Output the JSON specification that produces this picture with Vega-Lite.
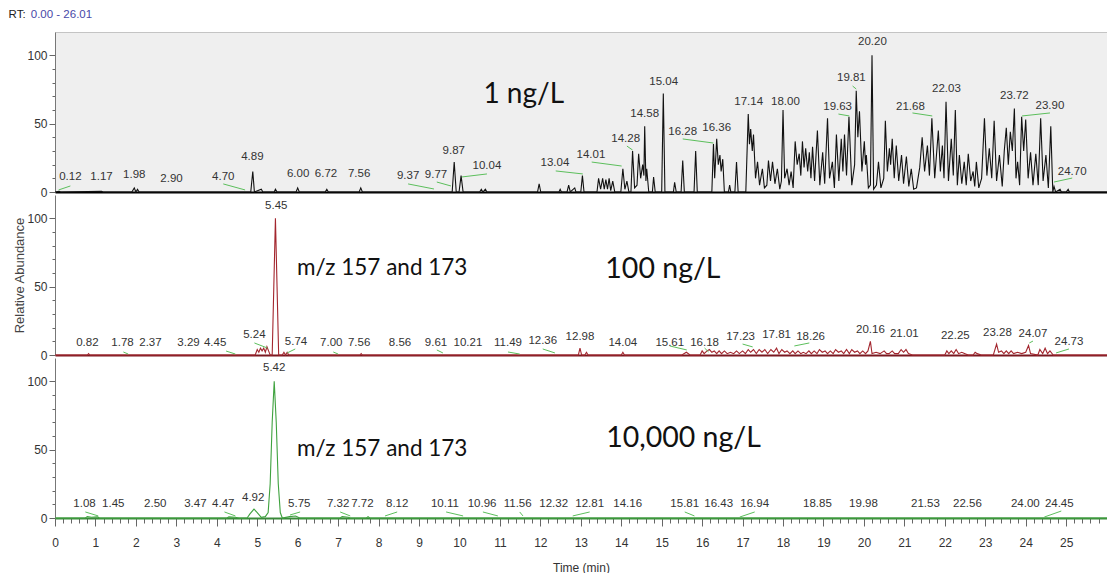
{
"$schema": "https://vega.github.io/schema/vega-lite/v6.json",
"padding": {"left": 8, "top": 8, "right": 0, "bottom": 0},
"background": "white",
"spacing": 3,
"bounds": "flush",
"config": {"view": {"stroke": null}, "axis": {"grid": false}},
"datasets": {
"one": [{}],
"top": [
{"t":0,"a":0},{"t":0.1,"a":0.5},{"t":0.14,"a":0},{"t":1.15,"a":0.5},{"t":1.19,"a":0},{"t":1.9,"a":0},{"t":1.96,"a":3},{"t":2.0,"a":0},{"t":2.04,"a":2},{"t":2.08,"a":0},
{"t":4.84,"a":0},{"t":4.89,"a":15},{"t":4.93,"a":0},{"t":5.1,"a":2},{"t":5.14,"a":0},{"t":5.42,"a":0},{"t":5.45,"a":2},{"t":5.49,"a":0},
{"t":5.96,"a":0},{"t":6.0,"a":3},{"t":6.04,"a":0},{"t":6.68,"a":0},{"t":6.72,"a":2},{"t":6.76,"a":0},{"t":7.52,"a":0},{"t":7.56,"a":3},{"t":7.6,"a":0},
{"t":9.82,"a":0},{"t":9.87,"a":22},{"t":9.92,"a":0},{"t":9.99,"a":0},{"t":10.04,"a":12},{"t":10.09,"a":0},
{"t":10.5,"a":0},{"t":10.54,"a":2},{"t":10.58,"a":0},{"t":10.64,"a":2},{"t":10.68,"a":0},
{"t":11.93,"a":0},{"t":11.97,"a":6},{"t":12.01,"a":0},{"t":12.46,"a":0},{"t":12.49,"a":2},{"t":12.52,"a":0},
{"t":12.66,"a":0},{"t":12.7,"a":5},{"t":12.74,"a":0},{"t":12.85,"a":3},{"t":12.88,"a":0},{"t":13.0,"a":0},{"t":13.04,"a":12},{"t":13.08,"a":0},
{"t":13.4,"a":0},{"t":13.44,"a":10},{"t":13.49,"a":2},{"t":13.54,"a":10},{"t":13.58,"a":2},{"t":13.62,"a":9},{"t":13.66,"a":2},{"t":13.7,"a":10},{"t":13.74,"a":1},{"t":13.79,"a":8},{"t":13.84,"a":0},
{"t":13.99,"a":0},{"t":14.04,"a":17},{"t":14.09,"a":2},{"t":14.14,"a":8},{"t":14.19,"a":0},{"t":14.24,"a":0},{"t":14.28,"a":30},{"t":14.33,"a":3},{"t":14.39,"a":5},{"t":14.43,"a":28},{"t":14.48,"a":10},{"t":14.53,"a":20},{"t":14.56,"a":12},{"t":14.58,"a":48},{"t":14.61,"a":8},{"t":14.63,"a":17},{"t":14.68,"a":0},{"t":14.77,"a":0},{"t":14.8,"a":11},{"t":14.84,"a":0},
{"t":15.0,"a":0},{"t":15.04,"a":72},{"t":15.08,"a":0},{"t":15.29,"a":0},{"t":15.32,"a":7},{"t":15.36,"a":0},{"t":15.48,"a":0},{"t":15.52,"a":23},{"t":15.56,"a":0},{"t":15.8,"a":0},{"t":15.84,"a":30},{"t":15.88,"a":0},
{"t":16.24,"a":0},{"t":16.28,"a":35},{"t":16.31,"a":10},{"t":16.36,"a":39},{"t":16.4,"a":20},{"t":16.44,"a":27},{"t":16.47,"a":15},{"t":16.51,"a":24},{"t":16.55,"a":0},{"t":16.65,"a":0},{"t":16.68,"a":5},{"t":16.71,"a":0},{"t":16.81,"a":0},{"t":16.85,"a":22},{"t":16.89,"a":0},
{"t":17.08,"a":0},{"t":17.14,"a":57},{"t":17.17,"a":35},{"t":17.2,"a":46},{"t":17.24,"a":30},{"t":17.27,"a":42},{"t":17.32,"a":10},{"t":17.37,"a":22},{"t":17.42,"a":5},{"t":17.49,"a":17},{"t":17.54,"a":3},{"t":17.6,"a":5},{"t":17.64,"a":23},{"t":17.69,"a":8},{"t":17.74,"a":22},{"t":17.8,"a":6},{"t":17.86,"a":17},{"t":17.92,"a":2},{"t":17.96,"a":8},
{"t":18.0,"a":60},{"t":18.04,"a":10},{"t":18.1,"a":17},{"t":18.15,"a":5},{"t":18.2,"a":15},{"t":18.25,"a":3},{"t":18.3,"a":37},{"t":18.35,"a":20},{"t":18.4,"a":28},{"t":18.44,"a":12},{"t":18.48,"a":37},{"t":18.52,"a":18},{"t":18.56,"a":32},{"t":18.61,"a":15},{"t":18.65,"a":29},{"t":18.69,"a":10},{"t":18.73,"a":33},{"t":18.78,"a":8},{"t":18.85,"a":45},{"t":18.91,"a":5},{"t":18.98,"a":29},
{"t":19.03,"a":6},{"t":19.1,"a":54},{"t":19.15,"a":10},{"t":19.22,"a":22},{"t":19.27,"a":3},{"t":19.32,"a":42},{"t":19.38,"a":8},{"t":19.44,"a":39},{"t":19.48,"a":15},{"t":19.52,"a":42},{"t":19.57,"a":12},{"t":19.63,"a":55},{"t":19.7,"a":5},{"t":19.77,"a":20},{"t":19.81,"a":74},{"t":19.85,"a":40},{"t":19.89,"a":59},{"t":19.95,"a":15},
{"t":20.01,"a":37},{"t":20.04,"a":20},{"t":20.06,"a":27},{"t":20.11,"a":3},{"t":20.16,"a":5},{"t":20.2,"a":100},{"t":20.24,"a":2},{"t":20.31,"a":5},{"t":20.36,"a":22},{"t":20.42,"a":3},{"t":20.49,"a":10},{"t":20.53,"a":52},{"t":20.58,"a":15},{"t":20.63,"a":32},{"t":20.66,"a":20},{"t":20.7,"a":39},{"t":20.75,"a":10},{"t":20.8,"a":34},{"t":20.86,"a":8},{"t":20.93,"a":27},{"t":20.98,"a":6},
{"t":21.05,"a":26},{"t":21.11,"a":4},{"t":21.17,"a":17},{"t":21.23,"a":2},{"t":21.3,"a":3},{"t":21.38,"a":18},{"t":21.44,"a":40},{"t":21.5,"a":15},{"t":21.57,"a":34},{"t":21.62,"a":12},{"t":21.68,"a":54},{"t":21.75,"a":10},{"t":21.84,"a":45},{"t":21.89,"a":15},{"t":21.94,"a":34},{"t":21.98,"a":10},
{"t":22.03,"a":66},{"t":22.09,"a":8},{"t":22.16,"a":39},{"t":22.21,"a":12},{"t":22.26,"a":60},{"t":22.31,"a":5},{"t":22.36,"a":27},{"t":22.42,"a":6},{"t":22.48,"a":22},{"t":22.53,"a":5},{"t":22.58,"a":28},{"t":22.64,"a":8},{"t":22.7,"a":15},{"t":22.74,"a":4},{"t":22.78,"a":22},{"t":22.84,"a":3},{"t":22.91,"a":10},{"t":22.98,"a":54},
{"t":23.04,"a":12},{"t":23.1,"a":32},{"t":23.16,"a":10},{"t":23.22,"a":52},{"t":23.28,"a":8},{"t":23.35,"a":27},{"t":23.42,"a":4},{"t":23.47,"a":30},{"t":23.52,"a":47},{"t":23.57,"a":20},{"t":23.62,"a":44},{"t":23.67,"a":30},{"t":23.72,"a":61},{"t":23.76,"a":10},{"t":23.8,"a":22},{"t":23.85,"a":5},{"t":23.9,"a":55},{"t":23.95,"a":30},
{"t":24.0,"a":53},{"t":24.06,"a":10},{"t":24.12,"a":29},{"t":24.18,"a":5},{"t":24.25,"a":28},{"t":24.31,"a":5},{"t":24.37,"a":54},{"t":24.43,"a":8},{"t":24.5,"a":27},{"t":24.56,"a":3},{"t":24.62,"a":48},{"t":24.67,"a":0},{"t":24.7,"a":4},{"t":24.74,"a":0},{"t":24.85,"a":2},{"t":24.88,"a":0},{"t":25.0,"a":0},{"t":25.05,"a":2},{"t":25.08,"a":0},{"t":26.01,"a":0}
],
"mid": [
{"t":0,"a":0},{"t":0.8,"a":0},{"t":0.83,"a":1},{"t":0.86,"a":0},{"t":4.95,"a":0},{"t":5.0,"a":4},{"t":5.04,"a":2},{"t":5.08,"a":5},{"t":5.12,"a":3},{"t":5.16,"a":5},{"t":5.2,"a":2},{"t":5.24,"a":6},{"t":5.28,"a":3},{"t":5.32,"a":0},{"t":5.37,"a":0},{"t":5.41,"a":50},{"t":5.45,"a":100},{"t":5.49,"a":50},{"t":5.53,"a":0},
{"t":5.62,"a":0},{"t":5.66,"a":2},{"t":5.7,"a":0},{"t":5.74,"a":2},{"t":5.78,"a":0},{"t":7.54,"a":0},{"t":7.57,"a":1},{"t":7.6,"a":0},
{"t":12.94,"a":0},{"t":12.98,"a":5},{"t":13.02,"a":0},{"t":13.1,"a":0},{"t":13.14,"a":2},{"t":13.18,"a":0},{"t":14.0,"a":0},{"t":14.04,"a":2},{"t":14.08,"a":0},
{"t":15.5,"a":0},{"t":15.61,"a":2},{"t":15.7,"a":0},{"t":15.95,"a":0},{"t":16.0,"a":3},{"t":16.05,"a":1},{"t":16.12,"a":3},{"t":16.18,"a":4},{"t":16.24,"a":2},{"t":16.3,"a":3},{"t":16.36,"a":1},{"t":16.42,"a":3},{"t":16.48,"a":1},{"t":16.55,"a":3},{"t":16.62,"a":1},{"t":16.7,"a":2},{"t":16.78,"a":1},{"t":16.85,"a":3},{"t":16.92,"a":1},
{"t":17.0,"a":3},{"t":17.07,"a":1},{"t":17.14,"a":4},{"t":17.2,"a":2},{"t":17.27,"a":4},{"t":17.34,"a":1},{"t":17.41,"a":4},{"t":17.48,"a":2},{"t":17.55,"a":4},{"t":17.62,"a":1},{"t":17.7,"a":4},{"t":17.77,"a":2},{"t":17.84,"a":5},{"t":17.9,"a":1},{"t":17.97,"a":4},
{"t":18.04,"a":2},{"t":18.1,"a":3},{"t":18.17,"a":1},{"t":18.24,"a":3},{"t":18.3,"a":1},{"t":18.37,"a":3},{"t":18.44,"a":1},{"t":18.5,"a":2},{"t":18.57,"a":1},{"t":18.64,"a":3},{"t":18.7,"a":1},{"t":18.77,"a":3},{"t":18.84,"a":1},{"t":18.9,"a":4},{"t":18.97,"a":2},
{"t":19.04,"a":3},{"t":19.1,"a":1},{"t":19.17,"a":3},{"t":19.24,"a":1},{"t":19.3,"a":4},{"t":19.37,"a":2},{"t":19.44,"a":3},{"t":19.5,"a":1},{"t":19.57,"a":4},{"t":19.64,"a":1},{"t":19.7,"a":4},{"t":19.77,"a":2},{"t":19.84,"a":3},{"t":19.9,"a":1},{"t":19.97,"a":3},
{"t":20.04,"a":1},{"t":20.1,"a":3},{"t":20.16,"a":10},{"t":20.2,"a":1},{"t":20.3,"a":2},{"t":20.4,"a":1},{"t":20.5,"a":3},{"t":20.56,"a":1},{"t":20.62,"a":1},{"t":20.7,"a":3},{"t":20.76,"a":1},{"t":20.85,"a":1},{"t":20.92,"a":4},{"t":20.98,"a":2},{"t":21.04,"a":4},{"t":21.1,"a":1},{"t":21.2,"a":0},
{"t":22.0,"a":0},{"t":22.05,"a":3},{"t":22.1,"a":1},{"t":22.16,"a":3},{"t":22.22,"a":1},{"t":22.28,"a":4},{"t":22.34,"a":1},{"t":22.42,"a":2},{"t":22.5,"a":1},{"t":22.58,"a":0},{"t":22.7,"a":0},{"t":22.75,"a":2},{"t":22.8,"a":1},{"t":22.9,"a":0},
{"t":23.2,"a":0},{"t":23.28,"a":8},{"t":23.33,"a":2},{"t":23.4,"a":3},{"t":23.46,"a":1},{"t":23.52,"a":3},{"t":23.58,"a":1},{"t":23.64,"a":3},{"t":23.7,"a":1},{"t":23.8,"a":2},{"t":23.9,"a":1},{"t":24.0,"a":2},{"t":24.07,"a":7},{"t":24.12,"a":1},{"t":24.3,"a":0},{"t":24.35,"a":4},{"t":24.42,"a":1},{"t":24.48,"a":5},{"t":24.54,"a":1},{"t":24.6,"a":3},{"t":24.68,"a":0},{"t":26.01,"a":0}
],
"bot": [
{"t":0,"a":0},{"t":0.75,"a":0},{"t":0.8,"a":1},{"t":0.9,"a":0.5},{"t":1.05,"a":0.8},{"t":1.1,"a":0},{"t":4.25,"a":0},{"t":4.3,"a":0.8},{"t":4.45,"a":0.5},{"t":4.55,"a":0},
{"t":4.75,"a":0},{"t":4.82,"a":3},{"t":4.92,"a":6.5},{"t":5.0,"a":4},{"t":5.1,"a":0.5},{"t":5.2,"a":1},{"t":5.27,"a":4},{"t":5.32,"a":25},{"t":5.37,"a":70},{"t":5.42,"a":100},{"t":5.47,"a":70},{"t":5.52,"a":25},{"t":5.57,"a":4},{"t":5.62,"a":0},
{"t":5.8,"a":1},{"t":5.95,"a":1.5},{"t":6.05,"a":0},{"t":7.05,"a":0},{"t":7.1,"a":1},{"t":7.25,"a":0.5},{"t":7.3,"a":0},{"t":7.7,"a":0},{"t":7.74,"a":1},{"t":7.78,"a":0},{"t":26.01,"a":0}
],
"lab": [
{"p":"top","s":"0.12","x":0.38,"y":11},{"p":"top","s":"1.17","x":1.15,"y":11},{"p":"top","s":"1.98","x":1.96,"y":12.4},{"p":"top","s":"2.90","x":2.88,"y":9.5},{"p":"top","s":"4.70","x":4.16,"y":11},{"p":"top","s":"4.89","x":4.88,"y":25.6},{"p":"top","s":"6.00","x":6.01,"y":13.2},{"p":"top","s":"6.72","x":6.7,"y":13.2},{"p":"top","s":"7.56","x":7.52,"y":13.2},
{"p":"top","s":"9.37","x":8.73,"y":11.7},{"p":"top","s":"9.77","x":9.42,"y":12.4},{"p":"top","s":"9.87","x":9.86,"y":30},{"p":"top","s":"10.04","x":10.68,"y":19},{"p":"top","s":"13.04","x":12.36,"y":21.2},{"p":"top","s":"14.01","x":13.25,"y":27.1},{"p":"top","s":"14.28","x":14.11,"y":38.8},{"p":"top","s":"14.58","x":14.58,"y":57},{"p":"top","s":"15.04","x":15.05,"y":80.4},{"p":"top","s":"16.28","x":15.52,"y":43.9},{"p":"top","s":"16.36","x":16.36,"y":46.8},
{"p":"top","s":"17.14","x":17.15,"y":65.8},{"p":"top","s":"18.00","x":18.06,"y":65.8},{"p":"top","s":"19.63","x":19.35,"y":62.2},{"p":"top","s":"19.81","x":19.69,"y":83.4},{"p":"top","s":"20.20","x":20.21,"y":109.7},{"p":"top","s":"21.68","x":21.15,"y":62.2},{"p":"top","s":"22.03","x":22.04,"y":75.3},{"p":"top","s":"23.72","x":23.72,"y":70.2},{"p":"top","s":"23.90","x":24.6,"y":62.9},{"p":"top","s":"24.70","x":25.15,"y":14.6},
{"p":"mid","s":"5.45","x":5.47,"y":109},{"p":"mid","s":"0.82","x":0.8,"y":8.8},{"p":"mid","s":"1.78","x":1.67,"y":8.8},{"p":"mid","s":"2.37","x":2.36,"y":8.8},{"p":"mid","s":"3.29","x":3.3,"y":8.8},{"p":"mid","s":"4.45","x":3.96,"y":8.8},{"p":"mid","s":"5.24","x":4.93,"y":14.6},{"p":"mid","s":"5.74","x":5.96,"y":9.5},{"p":"mid","s":"7.00","x":6.83,"y":8.8},{"p":"mid","s":"7.56","x":7.52,"y":8.8},
{"p":"mid","s":"8.56","x":8.53,"y":8.8},{"p":"mid","s":"9.61","x":9.42,"y":8.8},{"p":"mid","s":"10.21","x":10.21,"y":8.8},{"p":"mid","s":"11.49","x":11.2,"y":8.8},{"p":"mid","s":"12.36","x":12.06,"y":10.2},{"p":"mid","s":"12.98","x":12.98,"y":13.2},{"p":"mid","s":"14.04","x":14.04,"y":8.8},{"p":"mid","s":"15.61","x":15.2,"y":8.8},{"p":"mid","s":"16.18","x":16.06,"y":8.8},
{"p":"mid","s":"17.23","x":16.95,"y":13.2},{"p":"mid","s":"17.81","x":17.84,"y":14.6},{"p":"mid","s":"18.26","x":18.68,"y":13.2},{"p":"mid","s":"20.16","x":20.16,"y":18.3},{"p":"mid","s":"21.01","x":21.0,"y":15.4},{"p":"mid","s":"22.25","x":22.26,"y":13.9},{"p":"mid","s":"23.28","x":23.3,"y":16.1},{"p":"mid","s":"24.07","x":24.18,"y":15.4},{"p":"mid","s":"24.73","x":25.07,"y":9.5},
{"p":"bot","s":"5.42","x":5.42,"y":109.7},{"p":"bot","s":"1.08","x":0.73,"y":10.2},{"p":"bot","s":"1.45","x":1.44,"y":10.2},{"p":"bot","s":"2.50","x":2.48,"y":10.2},{"p":"bot","s":"3.47","x":3.47,"y":10.2},{"p":"bot","s":"4.47","x":4.16,"y":10.2},{"p":"bot","s":"4.92","x":4.9,"y":14.6},{"p":"bot","s":"5.75","x":6.04,"y":10.2},{"p":"bot","s":"7.32","x":7.0,"y":10.2},{"p":"bot","s":"7.72","x":7.6,"y":10.2},
{"p":"bot","s":"8.12","x":8.46,"y":10.2},{"p":"bot","s":"10.11","x":9.64,"y":10.2},{"p":"bot","s":"10.96","x":10.56,"y":10.2},{"p":"bot","s":"11.56","x":11.44,"y":10.2},{"p":"bot","s":"12.32","x":12.33,"y":10.2},{"p":"bot","s":"12.81","x":13.22,"y":10.2},{"p":"bot","s":"14.16","x":14.16,"y":10.2},{"p":"bot","s":"15.81","x":15.57,"y":10.2},{"p":"bot","s":"16.43","x":16.41,"y":10.2},
{"p":"bot","s":"16.94","x":17.3,"y":10.2},{"p":"bot","s":"18.85","x":18.85,"y":10.2},{"p":"bot","s":"19.98","x":19.99,"y":10.2},{"p":"bot","s":"21.53","x":21.52,"y":10.2},{"p":"bot","s":"22.56","x":22.56,"y":10.2},{"p":"bot","s":"24.00","x":23.99,"y":10.2},{"p":"bot","s":"24.45","x":24.83,"y":10.2}
],
"ld": [
{"p":"top","x":0.09,"y":1.5,"x2":0.38,"y2":4.4},{"p":"top","x":4.16,"y":5.9,"x2":4.7,"y2":1.5},{"p":"top","x":8.73,"y":5.9,"x2":9.37,"y2":2.2},{"p":"top","x":9.44,"y":7.3,"x2":9.79,"y2":4.4},{"p":"top","x":10.06,"y":11,"x2":10.68,"y2":13.2},{"p":"top","x":12.38,"y":15.4,"x2":13.05,"y2":13.2},{"p":"top","x":13.27,"y":21.9,"x2":14.01,"y2":19},{"p":"top","x":14.14,"y":33.6,"x2":14.28,"y2":30.7},{"p":"top","x":15.52,"y":38.8,"x2":16.28,"y2":35.8},{"p":"top","x":19.37,"y":57,"x2":19.64,"y2":55.6},{"p":"top","x":19.72,"y":77.5,"x2":19.81,"y2":75.3},{"p":"top","x":21.2,"y":57.8,"x2":21.69,"y2":55.6},{"p":"top","x":23.91,"y":55.6,"x2":24.6,"y2":57.8},{"p":"top","x":24.7,"y":7.3,"x2":25.15,"y2":10.2},
{"p":"mid","x":1.69,"y":2.2,"x2":1.81,"y2":0.7},{"p":"mid","x":4.23,"y":2.9,"x2":4.46,"y2":0.7},{"p":"mid","x":4.93,"y":8.8,"x2":5.25,"y2":5.1},{"p":"mid","x":5.74,"y":1.5,"x2":5.94,"y2":4.4},{"p":"mid","x":6.88,"y":2.2,"x2":7.0,"y2":0.7},{"p":"mid","x":9.44,"y":3.7,"x2":9.59,"y2":1.5},{"p":"mid","x":11.2,"y":2.2,"x2":11.49,"y2":0.7},{"p":"mid","x":12.06,"y":4.4,"x2":12.36,"y2":1.5},{"p":"mid","x":15.2,"y":6.6,"x2":15.62,"y2":3.7},{"p":"mid","x":16.06,"y":5.1,"x2":16.16,"y2":2.2},{"p":"mid","x":17.0,"y":8,"x2":17.25,"y2":5.9},{"p":"mid","x":18.28,"y":6.6,"x2":18.65,"y2":8.8},{"p":"mid","x":24.09,"y":8.8,"x2":24.18,"y2":10.2},{"p":"mid","x":24.75,"y":1.5,"x2":25.07,"y2":4.4},
{"p":"bot","x":0.75,"y":4.4,"x2":1.07,"y2":1.5},{"p":"bot","x":4.19,"y":4.4,"x2":4.46,"y2":1.5},{"p":"bot","x":5.81,"y":2.2,"x2":6.06,"y2":4.4},{"p":"bot","x":7.05,"y":4.4,"x2":7.3,"y2":1.5},{"p":"bot","x":8.16,"y":1.5,"x2":8.46,"y2":4.4},{"p":"bot","x":9.67,"y":4.4,"x2":10.09,"y2":1.5},{"p":"bot","x":10.58,"y":4.4,"x2":10.95,"y2":1.5},{"p":"bot","x":11.49,"y":4.4,"x2":11.57,"y2":1.5},{"p":"bot","x":12.8,"y":1.5,"x2":13.22,"y2":4.4},{"p":"bot","x":15.57,"y":4.4,"x2":15.81,"y2":1.5},{"p":"bot","x":16.93,"y":0.7,"x2":17.3,"y2":4.4},{"p":"bot","x":24.46,"y":0.7,"x2":24.88,"y2":5.1}
]
},
"vconcat": [
{
"width": 1052, "height": 160,
"view": {"fill": "#efefef", "stroke": "#c4c4c4"},
"layer": [
{"data": {"name": "top"}, "mark": {"type": "line", "color": "#111111", "strokeWidth": 1.1},
 "encoding": {
  "x": {"field": "t", "type": "quantitative", "scale": {"domain": [0, 26.01], "nice": false, "zero": false},
        "axis": {"title": null, "labels": false, "ticks": false, "domain": true, "domainColor": "#000000", "domainWidth": 2}},
  "y": {"field": "a", "type": "quantitative", "scale": {"domain": [0, 117], "nice": false},
        "axis": {"title": null, "values": [0,10,20,30,40,50,60,70,80,90,100], "tickCount": 500, "labelExpr": "datum.value % 50 === 0 ? format(datum.value, 'd') : ''",
                 "tickSize": {"condition": {"test": "datum.value % 50 === 0", "value": 6}, "value": 3},
                 "domainColor": "#777777", "tickColor": "#666666", "labelColor": "#333333", "labelFont": "Liberation Sans", "labelFontSize": 12, "labelPadding": 2, "labelOverlap": false}}
 }},
{"data": {"name": "ld"}, "transform": [{"filter": "datum.p === 'top'"}], "mark": {"type": "rule", "color": "#5cbf5c", "strokeWidth": 1},
 "encoding": {"x": {"field": "x", "type": "quantitative"}, "x2": {"field": "x2"}, "y": {"field": "y", "type": "quantitative"}, "y2": {"field": "y2"}}},
{"data": {"name": "lab"}, "transform": [{"filter": "datum.p === 'top'"}], "mark": {"type": "text", "font": "Liberation Sans", "fontSize": 11.5, "color": "#333333", "baseline": "middle", "align": "center"},
 "encoding": {"x": {"field": "x", "type": "quantitative"}, "y": {"field": "y", "type": "quantitative"}, "text": {"field": "s"}}},
{"data": {"name": "one"}, "mark": {"type": "text", "font": "Lato", "fontSize": 28, "color": "#111111", "align": "center", "baseline": "alphabetic", "text": "1 ng/L"},
 "encoding": {"x": {"datum": 11.59}, "y": {"datum": 65.1}}},
{"data": {"name": "one"}, "mark": {"type": "text", "font": "Liberation Sans", "fontSize": 11.5, "color": "#222222", "align": "left", "baseline": "top", "text": "RT:"},
 "encoding": {"x": {"datum": -1.148}, "y": {"datum": 133.8}}},
{"data": {"name": "one"}, "mark": {"type": "text", "font": "Liberation Sans", "fontSize": 11.5, "color": "#4848a8", "align": "left", "baseline": "top", "text": "0.00 - 26.01"},
 "encoding": {"x": {"datum": -0.6}, "y": {"datum": 133.8}}}
]
},
{
"width": 1052, "height": 160,
"layer": [
{"data": {"name": "mid"}, "mark": {"type": "line", "color": "#a3262e", "strokeWidth": 1.1},
 "encoding": {
  "x": {"field": "t", "type": "quantitative", "scale": {"domain": [0, 26.01], "nice": false, "zero": false},
        "axis": {"title": null, "labels": false, "ticks": false, "domain": true, "domainColor": "#7a1820", "domainWidth": 2}},
  "y": {"field": "a", "type": "quantitative", "scale": {"domain": [0, 117], "nice": false},
        "axis": {"title": "Relative Abundance", "titleFont": "Liberation Sans", "titleFontSize": 13, "titleFontWeight": "normal", "titleColor": "#444444", "titlePadding": 0,
                 "values": [0,10,20,30,40,50,60,70,80,90,100], "tickCount": 500, "labelExpr": "datum.value % 50 === 0 ? format(datum.value, 'd') : ''",
                 "tickSize": {"condition": {"test": "datum.value % 50 === 0", "value": 6}, "value": 3},
                 "domainColor": "#777777", "tickColor": "#666666", "labelColor": "#333333", "labelFont": "Liberation Sans", "labelFontSize": 12, "labelPadding": 2, "labelOverlap": false}}
 }},
{"data": {"name": "ld"}, "transform": [{"filter": "datum.p === 'mid'"}], "mark": {"type": "rule", "color": "#5cbf5c", "strokeWidth": 1},
 "encoding": {"x": {"field": "x", "type": "quantitative"}, "x2": {"field": "x2"}, "y": {"field": "y", "type": "quantitative"}, "y2": {"field": "y2"}}},
{"data": {"name": "lab"}, "transform": [{"filter": "datum.p === 'mid'"}], "mark": {"type": "text", "font": "Liberation Sans", "fontSize": 11.5, "color": "#333333", "baseline": "middle", "align": "center"},
 "encoding": {"x": {"field": "x", "type": "quantitative"}, "y": {"field": "y", "type": "quantitative"}, "text": {"field": "s"}}},
{"data": {"name": "one"}, "mark": {"type": "text", "font": "Lato", "fontSize": 22.5, "color": "#111111", "align": "center", "baseline": "alphabetic", "text": "m/z 157 and 173"},
 "encoding": {"x": {"datum": 8.09}, "y": {"datum": 58.5}}},
{"data": {"name": "one"}, "mark": {"type": "text", "font": "Lato", "fontSize": 28.5, "color": "#111111", "align": "center", "baseline": "alphabetic", "text": "100 ng/L"},
 "encoding": {"x": {"datum": 15.03}, "y": {"datum": 56.3}}}
]
},
{
"width": 1052, "height": 160,
"layer": [
{"data": {"name": "bot"}, "mark": {"type": "line", "color": "#3fa23f", "strokeWidth": 1.1},
 "encoding": {
  "x": {"field": "t", "type": "quantitative", "scale": {"domain": [0, 26.01], "nice": false, "zero": false},
        "axis": {"title": "Time (min)", "titleFont": "Liberation Sans", "titleFontSize": 12, "titleFontWeight": "normal", "titleColor": "#333333", "titlePadding": 14,
                 "values": [0,0.2,0.4,0.6,0.8,1,1.2,1.4,1.6,1.8,2,2.2,2.4,2.6,2.8,3,3.2,3.4,3.6,3.8,4,4.2,4.4,4.6,4.8,5,5.2,5.4,5.6,5.8,6,6.2,6.4,6.6,6.8,7,7.2,7.4,7.6,7.8,8,8.2,8.4,8.6,8.8,9,9.2,9.4,9.6,9.8,10,10.2,10.4,10.6,10.8,11,11.2,11.4,11.6,11.8,12,12.2,12.4,12.6,12.8,13,13.2,13.4,13.6,13.8,14,14.2,14.4,14.6,14.8,15,15.2,15.4,15.6,15.8,16,16.2,16.4,16.6,16.8,17,17.2,17.4,17.6,17.8,18,18.2,18.4,18.6,18.8,19,19.2,19.4,19.6,19.8,20,20.2,20.4,20.6,20.8,21,21.2,21.4,21.6,21.8,22,22.2,22.4,22.6,22.8,23,23.2,23.4,23.6,23.8,24,24.2,24.4,24.6,24.8,25,25.2,25.4,25.6,25.8],
                 "tickCount": 1000,
                 "labelExpr": "datum.value % 1 === 0 ? format(datum.value, 'd') : ''",
                 "tickSize": {"condition": {"test": "datum.value % 1 === 0", "value": 8}, "value": 5},
                 "labelOverlap": false, "labelFlush": false, "labelPadding": 11,
                 "domainColor": "#3a8a3a", "domainWidth": 2, "tickColor": "#666666", "labelColor": "#333333", "labelFont": "Liberation Sans", "labelFontSize": 12}},
  "y": {"field": "a", "type": "quantitative", "scale": {"domain": [0, 117], "nice": false},
        "axis": {"title": null, "values": [0,10,20,30,40,50,60,70,80,90,100], "tickCount": 500, "labelExpr": "datum.value % 50 === 0 ? format(datum.value, 'd') : ''",
                 "tickSize": {"condition": {"test": "datum.value % 50 === 0", "value": 6}, "value": 3},
                 "domainColor": "#777777", "tickColor": "#666666", "labelColor": "#333333", "labelFont": "Liberation Sans", "labelFontSize": 12, "labelPadding": 2, "labelOverlap": false}}
 }},
{"data": {"name": "ld"}, "transform": [{"filter": "datum.p === 'bot'"}], "mark": {"type": "rule", "color": "#5cbf5c", "strokeWidth": 1},
 "encoding": {"x": {"field": "x", "type": "quantitative"}, "x2": {"field": "x2"}, "y": {"field": "y", "type": "quantitative"}, "y2": {"field": "y2"}}},
{"data": {"name": "lab"}, "transform": [{"filter": "datum.p === 'bot'"}], "mark": {"type": "text", "font": "Liberation Sans", "fontSize": 11.5, "color": "#333333", "baseline": "middle", "align": "center"},
 "encoding": {"x": {"field": "x", "type": "quantitative"}, "y": {"field": "y", "type": "quantitative"}, "text": {"field": "s"}}},
{"data": {"name": "one"}, "mark": {"type": "text", "font": "Lato", "fontSize": 22.5, "color": "#111111", "align": "center", "baseline": "alphabetic", "text": "m/z 157 and 173"},
 "encoding": {"x": {"datum": 8.09}, "y": {"datum": 45.3}}},
{"data": {"name": "one"}, "mark": {"type": "text", "font": "Lato", "fontSize": 28.5, "color": "#111111", "align": "center", "baseline": "alphabetic", "text": "10,000 ng/L"},
 "encoding": {"x": {"datum": 15.54}, "y": {"datum": 51.9}}}
]
}
]
}
